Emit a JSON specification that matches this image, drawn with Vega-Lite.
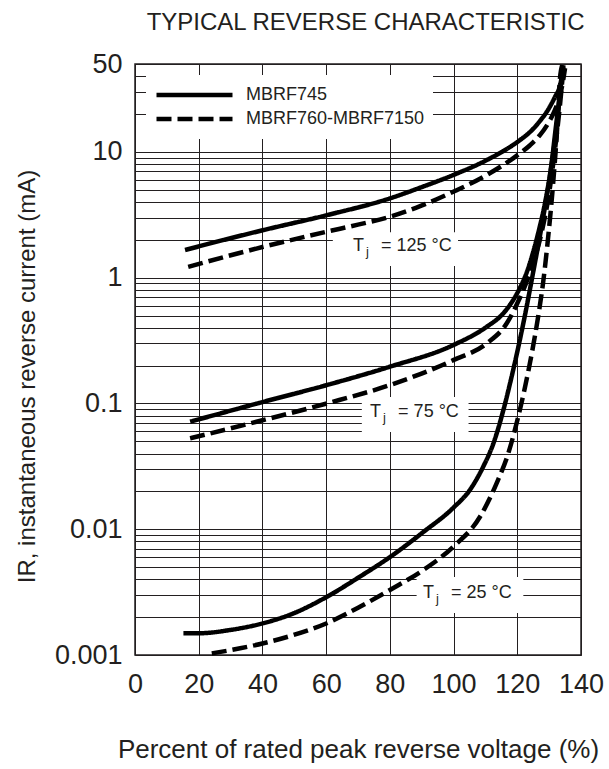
{
  "$schema": "https://vega.github.io/schema/vega-lite/v6.json",
  "width": 446,
  "height": 591,
  "autosize": {"type": "none"},
  "padding": {"left": 135, "top": 64, "right": 28, "bottom": 114},
  "background": "white",
  "title": {
    "text": "TYPICAL REVERSE CHARACTERISTIC",
    "anchor": "end",
    "fontSize": 24,
    "fontWeight": "normal",
    "font": "Liberation Sans",
    "color": "#231f20",
    "baseline": "alphabetic",
    "offset": -4,
    "dx": -19
  },
  "config": {
    "font": "Liberation Sans",
    "view": {"stroke": "#231f20", "strokeWidth": 1.5},
    "legend": {
      "title": null,
      "orient": "top-left",
      "offset": 11,
      "fillColor": "white",
      "padding": 8,
      "symbolType": "stroke",
      "symbolSize": 5776,
      "symbolStrokeWidth": 4.5,
      "symbolStrokeColor": "black",
      "labelFontSize": 18,
      "labelFont": "Liberation Sans",
      "labelColor": "#231f20",
      "labelOffset": 11,
      "labelLimit": 400,
      "clipHeight": 24,
      "rowPadding": 0
    }
  },
  "datasets": {
    "labels": [
      {"temp": "125", "x0": 62.1, "x1": 101.4, "y0": 1.24, "y1": 2.30, "tx": 68.4, "ty": 1.78, "rest": "= 125 °C"},
      {"temp": "75", "x0": 71.2, "x1": 104.7, "y0": 0.0593, "y1": 0.1125, "tx": 73.8, "ty": 0.0855, "rest": "= 75 °C"},
      {"temp": "25", "x0": 88.4, "x1": 121.9, "y0": 0.00216, "y1": 0.00417, "tx": 90.4, "ty": 0.00311, "rest": "= 25 °C"}
    ],
    "curves": [
      {"device": "MBRF745", "tj": "125", "v": 15.7, "i": 1.66},
      {"device": "MBRF745", "tj": "125", "v": 28, "i": 2.0},
      {"device": "MBRF745", "tj": "125", "v": 40.3, "i": 2.39},
      {"device": "MBRF745", "tj": "125", "v": 60.2, "i": 3.14},
      {"device": "MBRF745", "tj": "125", "v": 80, "i": 4.27},
      {"device": "MBRF745", "tj": "125", "v": 90, "i": 5.25},
      {"device": "MBRF745", "tj": "125", "v": 99.9, "i": 6.55},
      {"device": "MBRF745", "tj": "125", "v": 110.4, "i": 8.61},
      {"device": "MBRF745", "tj": "125", "v": 120.8, "i": 12.4},
      {"device": "MBRF745", "tj": "125", "v": 124.0, "i": 14.4},
      {"device": "MBRF745", "tj": "125", "v": 127.1, "i": 17.6},
      {"device": "MBRF745", "tj": "125", "v": 129.6, "i": 21.5},
      {"device": "MBRF745", "tj": "125", "v": 131.8, "i": 27.3},
      {"device": "MBRF745", "tj": "125", "v": 133.4, "i": 33.6},
      {"device": "MBRF745", "tj": "125", "v": 134.5, "i": 47.2},

      {"device": "MBRF760-MBRF7150", "tj": "125", "v": 16.7, "i": 1.22},
      {"device": "MBRF760-MBRF7150", "tj": "125", "v": 40.3, "i": 1.76},
      {"device": "MBRF760-MBRF7150", "tj": "125", "v": 60.2, "i": 2.32},
      {"device": "MBRF760-MBRF7150", "tj": "125", "v": 70, "i": 2.64},
      {"device": "MBRF760-MBRF7150", "tj": "125", "v": 80, "i": 3.05},
      {"device": "MBRF760-MBRF7150", "tj": "125", "v": 89.5, "i": 3.7},
      {"device": "MBRF760-MBRF7150", "tj": "125", "v": 99.9, "i": 4.82},
      {"device": "MBRF760-MBRF7150", "tj": "125", "v": 110.4, "i": 6.55},
      {"device": "MBRF760-MBRF7150", "tj": "125", "v": 120.8, "i": 9.73},
      {"device": "MBRF760-MBRF7150", "tj": "125", "v": 124.0, "i": 11.3},
      {"device": "MBRF760-MBRF7150", "tj": "125", "v": 127.1, "i": 13.6},
      {"device": "MBRF760-MBRF7150", "tj": "125", "v": 129.7, "i": 16.9},
      {"device": "MBRF760-MBRF7150", "tj": "125", "v": 131.8, "i": 21.5},
      {"device": "MBRF760-MBRF7150", "tj": "125", "v": 133.4, "i": 27.8},
      {"device": "MBRF760-MBRF7150", "tj": "125", "v": 134.4, "i": 37.2},
      {"device": "MBRF760-MBRF7150", "tj": "125", "v": 135.0, "i": 46.4},

      {"device": "MBRF745", "tj": "75", "v": 17.3, "i": 0.0716},
      {"device": "MBRF745", "tj": "75", "v": 40.3, "i": 0.103},
      {"device": "MBRF745", "tj": "75", "v": 60.2, "i": 0.14},
      {"device": "MBRF745", "tj": "75", "v": 80, "i": 0.196},
      {"device": "MBRF745", "tj": "75", "v": 99.9, "i": 0.291},
      {"device": "MBRF745", "tj": "75", "v": 110.4, "i": 0.407},
      {"device": "MBRF745", "tj": "75", "v": 115.6, "i": 0.52},
      {"device": "MBRF745", "tj": "75", "v": 118.3, "i": 0.64},
      {"device": "MBRF745", "tj": "75", "v": 120.8, "i": 0.826},
      {"device": "MBRF745", "tj": "75", "v": 123.0, "i": 1.108},
      {"device": "MBRF745", "tj": "75", "v": 124.9, "i": 1.57},
      {"device": "MBRF745", "tj": "75", "v": 126.8, "i": 2.39},
      {"device": "MBRF745", "tj": "75", "v": 128.7, "i": 3.92},
      {"device": "MBRF745", "tj": "75", "v": 130.6, "i": 7.57},
      {"device": "MBRF745", "tj": "75", "v": 132.1, "i": 15.7},
      {"device": "MBRF745", "tj": "75", "v": 133.4, "i": 29.9},
      {"device": "MBRF745", "tj": "75", "v": 134.3, "i": 48},

      {"device": "MBRF760-MBRF7150", "tj": "75", "v": 17.3, "i": 0.0528},
      {"device": "MBRF760-MBRF7150", "tj": "75", "v": 40.3, "i": 0.0738},
      {"device": "MBRF760-MBRF7150", "tj": "75", "v": 60.2, "i": 0.1},
      {"device": "MBRF760-MBRF7150", "tj": "75", "v": 80, "i": 0.14},
      {"device": "MBRF760-MBRF7150", "tj": "75", "v": 99.9, "i": 0.221},
      {"device": "MBRF760-MBRF7150", "tj": "75", "v": 110.4, "i": 0.30},
      {"device": "MBRF760-MBRF7150", "tj": "75", "v": 116.7, "i": 0.434},
      {"device": "MBRF760-MBRF7150", "tj": "75", "v": 120.2, "i": 0.64},
      {"device": "MBRF760-MBRF7150", "tj": "75", "v": 123.0, "i": 0.939},
      {"device": "MBRF760-MBRF7150", "tj": "75", "v": 125.6, "i": 1.46},
      {"device": "MBRF760-MBRF7150", "tj": "75", "v": 127.8, "i": 2.39},
      {"device": "MBRF760-MBRF7150", "tj": "75", "v": 129.7, "i": 4.21},
      {"device": "MBRF760-MBRF7150", "tj": "75", "v": 131.8, "i": 10.3},
      {"device": "MBRF760-MBRF7150", "tj": "75", "v": 133.4, "i": 23.5},
      {"device": "MBRF760-MBRF7150", "tj": "75", "v": 134.4, "i": 42.3},
      {"device": "MBRF760-MBRF7150", "tj": "75", "v": 134.8, "i": 49},

      {"device": "MBRF745", "tj": "25", "v": 15.2, "i": 0.00149},
      {"device": "MBRF745", "tj": "25", "v": 20.4, "i": 0.00149},
      {"device": "MBRF745", "tj": "25", "v": 29.8, "i": 0.00158},
      {"device": "MBRF745", "tj": "25", "v": 40.3, "i": 0.00179},
      {"device": "MBRF745", "tj": "25", "v": 49.7, "i": 0.00214},
      {"device": "MBRF745", "tj": "25", "v": 60.2, "i": 0.0029},
      {"device": "MBRF745", "tj": "25", "v": 70.6, "i": 0.0042},
      {"device": "MBRF745", "tj": "25", "v": 80, "i": 0.006},
      {"device": "MBRF745", "tj": "25", "v": 90.5, "i": 0.0095},
      {"device": "MBRF745", "tj": "25", "v": 99.9, "i": 0.0148},
      {"device": "MBRF745", "tj": "25", "v": 105.1, "i": 0.0205},
      {"device": "MBRF745", "tj": "25", "v": 109.3, "i": 0.0314},
      {"device": "MBRF745", "tj": "25", "v": 112.5, "i": 0.0481},
      {"device": "MBRF745", "tj": "25", "v": 115.6, "i": 0.0879},
      {"device": "MBRF745", "tj": "25", "v": 118.0, "i": 0.1545},
      {"device": "MBRF745", "tj": "25", "v": 120.2, "i": 0.2716},
      {"device": "MBRF745", "tj": "25", "v": 122.4, "i": 0.502},
      {"device": "MBRF745", "tj": "25", "v": 124.9, "i": 1.076},
      {"device": "MBRF745", "tj": "25", "v": 127.7, "i": 2.62},
      {"device": "MBRF745", "tj": "25", "v": 130.3, "i": 6.53},
      {"device": "MBRF745", "tj": "25", "v": 132.4, "i": 16.2},
      {"device": "MBRF745", "tj": "25", "v": 133.9, "i": 37.6},
      {"device": "MBRF745", "tj": "25", "v": 134.5, "i": 49},

      {"device": "MBRF760-MBRF7150", "tj": "25", "v": 24.1, "i": 0.00103},
      {"device": "MBRF760-MBRF7150", "tj": "25", "v": 33, "i": 0.00113},
      {"device": "MBRF760-MBRF7150", "tj": "25", "v": 40.3, "i": 0.00124},
      {"device": "MBRF760-MBRF7150", "tj": "25", "v": 49.7, "i": 0.00144},
      {"device": "MBRF760-MBRF7150", "tj": "25", "v": 60.2, "i": 0.00179},
      {"device": "MBRF760-MBRF7150", "tj": "25", "v": 70.6, "i": 0.00242},
      {"device": "MBRF760-MBRF7150", "tj": "25", "v": 80, "i": 0.00329},
      {"device": "MBRF760-MBRF7150", "tj": "25", "v": 90.5, "i": 0.00474},
      {"device": "MBRF760-MBRF7150", "tj": "25", "v": 99.9, "i": 0.00726},
      {"device": "MBRF760-MBRF7150", "tj": "25", "v": 108.3, "i": 0.01256},
      {"device": "MBRF760-MBRF7150", "tj": "25", "v": 113.5, "i": 0.02317},
      {"device": "MBRF760-MBRF7150", "tj": "25", "v": 117.2, "i": 0.04027},
      {"device": "MBRF760-MBRF7150", "tj": "25", "v": 119.9, "i": 0.0715},
      {"device": "MBRF760-MBRF7150", "tj": "25", "v": 122.4, "i": 0.134},
      {"device": "MBRF760-MBRF7150", "tj": "25", "v": 124.6, "i": 0.254},
      {"device": "MBRF760-MBRF7150", "tj": "25", "v": 126.5, "i": 0.481},
      {"device": "MBRF760-MBRF7150", "tj": "25", "v": 128.1, "i": 0.912},
      {"device": "MBRF760-MBRF7150", "tj": "25", "v": 129.6, "i": 1.99},
      {"device": "MBRF760-MBRF7150", "tj": "25", "v": 131.2, "i": 5.43},
      {"device": "MBRF760-MBRF7150", "tj": "25", "v": 132.5, "i": 15.1},
      {"device": "MBRF760-MBRF7150", "tj": "25", "v": 133.4, "i": 38.5},
      {"device": "MBRF760-MBRF7150", "tj": "25", "v": 134.1, "i": 49}
    ]
  },
  "layer": [
    {
      "data": {"name": "labels"},
      "mark": {"type": "rect", "fill": "white", "stroke": null},
      "encoding": {
        "x": {
          "field": "x0",
          "type": "quantitative",
          "scale": {"domain": [0, 140], "nice": false, "zero": false},
          "axis": {
            "title": "Percent of rated peak reverse voltage (%)",
            "values": [0, 20, 40, 60, 80, 100, 120, 140],
            "grid": true,
            "gridColor": "#231f20",
            "gridWidth": 1,
            "gridOpacity": 1,
            "domain": false,
            "ticks": false,
            "tickSize": 0,
            "labelFlush": false,
            "labelFontSize": 27,
            "labelFont": "Liberation Sans",
            "labelColor": "#231f20",
            "labelPadding": 16,
            "titleFontSize": 26,
            "titleFont": "Liberation Sans",
            "titleFontWeight": "normal",
            "titleColor": "#231f20",
            "titlePadding": 39
          }
        },
        "x2": {"field": "x1"},
        "y": {
          "field": "y0",
          "type": "quantitative",
          "scale": {"type": "log", "domain": [0.001, 50], "nice": false},
          "axis": {
            "title": "IR, instantaneous reverse current (mA)",
            "values": [0.001, 0.002, 0.003, 0.004, 0.005, 0.006, 0.007, 0.008, 0.009, 0.01, 0.02, 0.03, 0.04, 0.05, 0.06, 0.07, 0.08, 0.09, 0.1, 0.2, 0.3, 0.4, 0.5, 0.6, 0.7, 0.8, 0.9, 1, 2, 3, 4, 5, 6, 7, 8, 9, 10, 20, 30, 40, 50],
            "labelExpr": "indexof([0.001, 0.01, 0.1, 1, 10, 50], datum.value) >= 0 ? format(datum.value, '~g') : ''",
            "labelOverlap": false,
            "labelFlush": false,
            "grid": true,
            "gridColor": "#231f20",
            "gridWidth": 1,
            "gridOpacity": 1,
            "domain": false,
            "ticks": false,
            "tickSize": 0,
            "labelFontSize": 27,
            "labelFont": "Liberation Sans",
            "labelColor": "#231f20",
            "labelPadding": 13,
            "titleFontSize": 24,
            "titleFont": "Liberation Sans",
            "titleFontWeight": "normal",
            "titleColor": "#231f20",
            "titlePadding": 15,
            "titleY": 312
          }
        },
        "y2": {"field": "y1"}
      }
    },
    {
      "data": {"name": "curves"},
      "mark": {"type": "line", "interpolate": "monotone", "strokeWidth": 4.5, "color": "black", "strokeCap": "butt"},
      "encoding": {
        "x": {"field": "v", "type": "quantitative"},
        "y": {"field": "i", "type": "quantitative"},
        "strokeDash": {
          "field": "device",
          "type": "nominal",
          "scale": {"domain": ["MBRF745", "MBRF760-MBRF7150"], "range": [[1, 0], [15, 6]]}
        },
        "detail": {"field": "tj", "type": "nominal"}
      }
    },
    {
      "data": {"name": "labels"},
      "mark": {"type": "text", "align": "left", "baseline": "middle", "fontSize": 18, "font": "Liberation Sans", "color": "#231f20", "text": "T"},
      "encoding": {
        "x": {"field": "tx", "type": "quantitative"},
        "y": {"field": "ty", "type": "quantitative"}
      }
    },
    {
      "data": {"name": "labels"},
      "mark": {"type": "text", "align": "left", "baseline": "middle", "fontSize": 13, "font": "Liberation Sans", "color": "#231f20", "text": "j", "dx": 13, "dy": 6},
      "encoding": {
        "x": {"field": "tx", "type": "quantitative"},
        "y": {"field": "ty", "type": "quantitative"}
      }
    },
    {
      "data": {"name": "labels"},
      "mark": {"type": "text", "align": "left", "baseline": "middle", "fontSize": 18, "font": "Liberation Sans", "color": "#231f20", "dx": 28},
      "encoding": {
        "x": {"field": "tx", "type": "quantitative"},
        "y": {"field": "ty", "type": "quantitative"},
        "text": {"field": "rest", "type": "nominal"}
      }
    }
  ]
}
